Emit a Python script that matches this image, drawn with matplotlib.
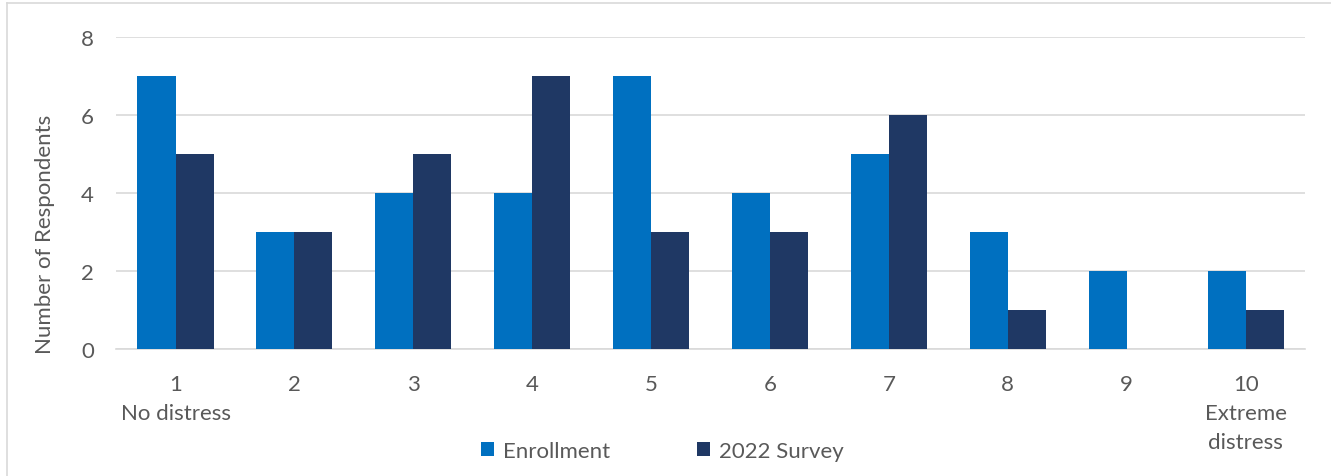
import matplotlib.pyplot as plt
import numpy as np

categories = ["1\nNo distress", "2", "3", "4", "5", "6", "7", "8", "9", "10\nExtreme\ndistress"]
enrollment = [7, 3, 4, 4, 7, 4, 5, 3, 2, 2]
survey_2022 = [5, 3, 5, 7, 3, 3, 6, 1, 0, 1]

plt.rcParams['font.family'] = ['Lato', 'DejaVu Sans']
text_color = '#595959'
fs = 16

fig = plt.figure(figsize=(13.31, 4.77), dpi=100)
ax = fig.add_axes([0.0872, 0.2662, 0.8933, 0.6541])

x = np.arange(len(categories))
w = 0.32
ax.bar(x - w / 2, enrollment, w, color='#0070C0', label='Enrollment', zorder=3)
ax.bar(x + w / 2, survey_2022, w, color='#1F3864', label='2022 Survey', zorder=3)

ax.set_xlim(-0.5, len(categories) - 0.5)
ax.set_ylim(0, 8)
ax.set_yticks([0, 2, 4, 6, 8])
ax.yaxis.grid(True, color='#D9D9D9', linewidth=1.2, zorder=0)
ax.set_xticks(x)
ax.set_xticklabels(categories, linespacing=1.55, va='top')
ax.tick_params(axis='both', length=0, labelsize=fs, colors=text_color)
ax.tick_params(axis='x', pad=18)
ax.tick_params(axis='y', pad=16)
for s in ['top', 'right', 'left']:
    ax.spines[s].set_visible(False)
ax.spines['bottom'].set_color('#D9D9D9')
ax.spines['bottom'].set_linewidth(1.2)

fig.text(45 / 1331, 1 - 234 / 477, 'Number of Respondents', rotation=90,
         ha='center', va='center', fontsize=fs, color=text_color)

leg = fig.legend(loc='center', bbox_to_anchor=(662 / 1331, 1 - 452 / 477), ncol=2,
                 frameon=False, fontsize=fs, handlelength=0.6, handleheight=0.6,
                 handletextpad=0.4, columnspacing=3.9)
for t in leg.get_texts():
    t.set_color(text_color)

# light frame on the left and top edges
fig.add_artist(plt.Line2D([7 / 1331, 7 / 1331], [0, 1 - 4 / 477], color='#D9D9D9', lw=1.2))
fig.add_artist(plt.Line2D([7 / 1331, 1], [1 - 4 / 477, 1 - 4 / 477], color='#D9D9D9', lw=1.2))

fig.savefig('out.png', dpi=100)
